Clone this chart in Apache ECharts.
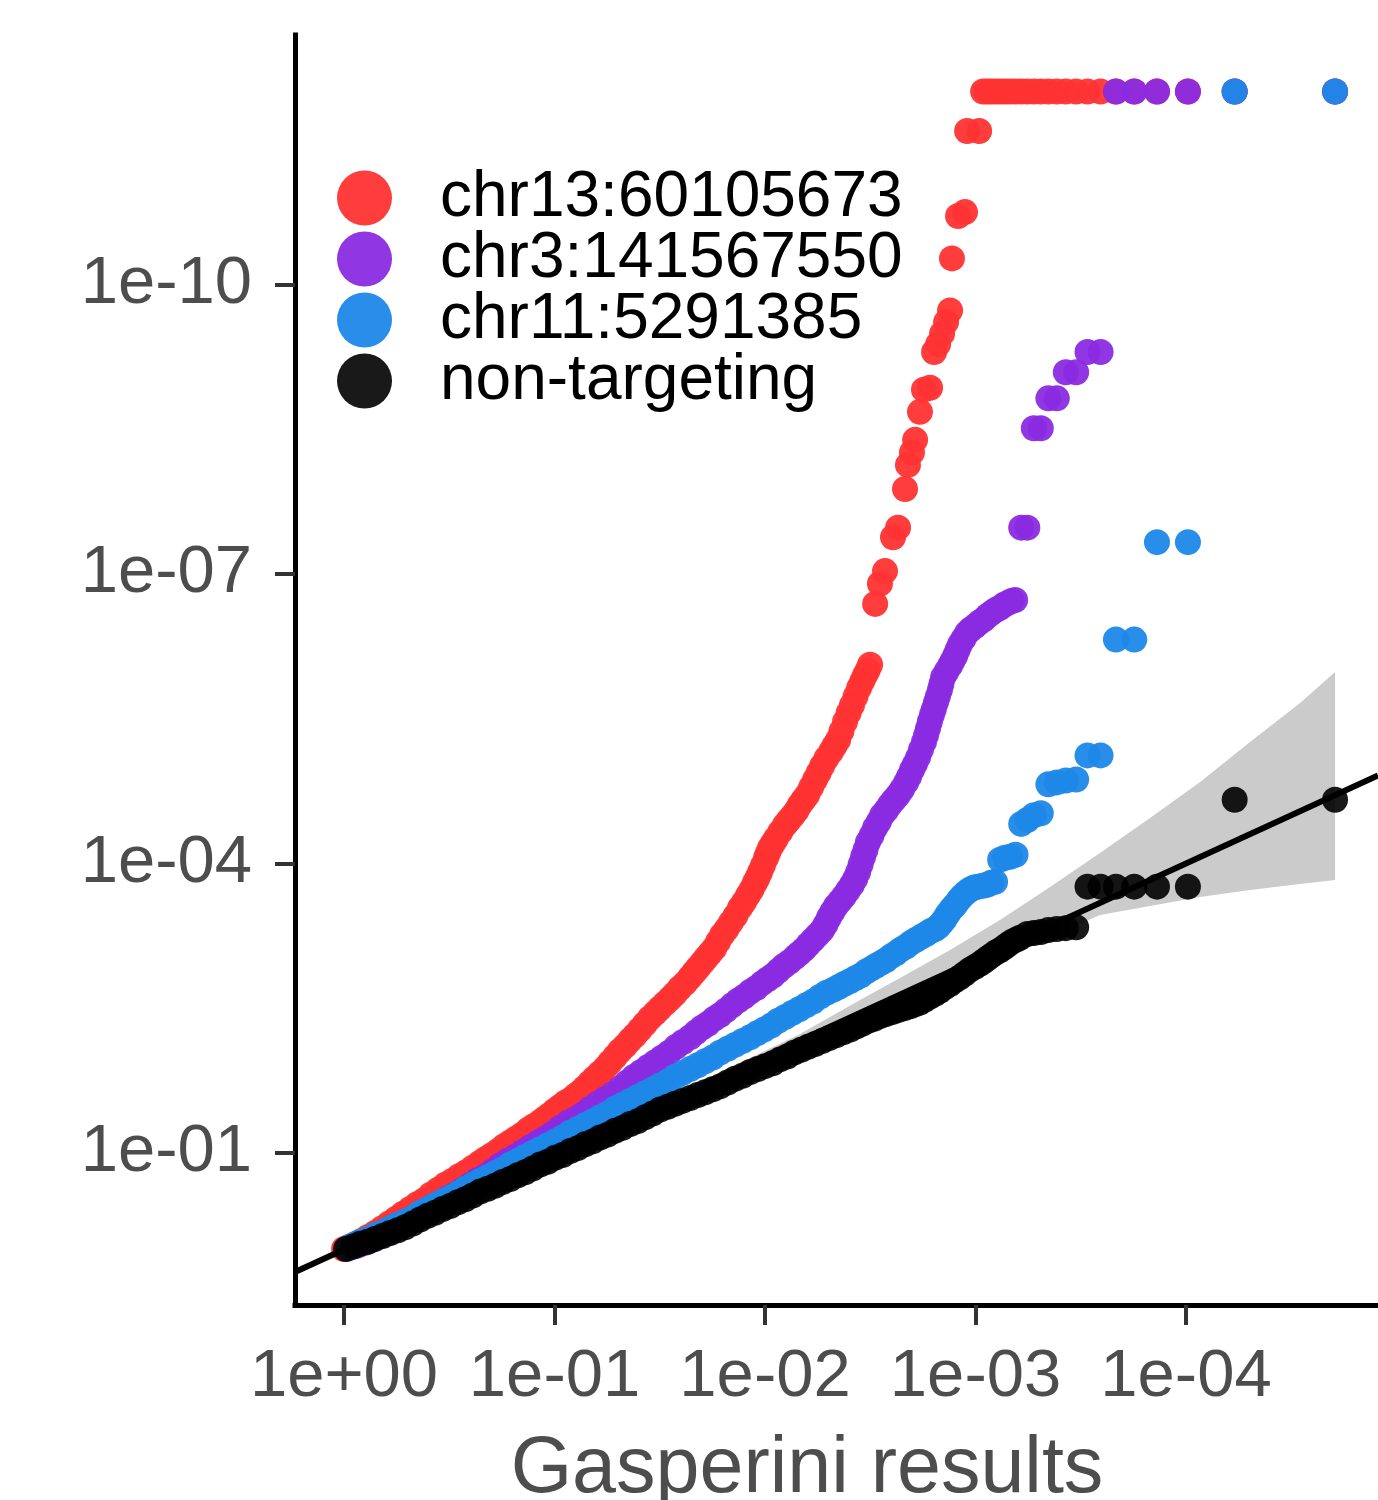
<!DOCTYPE html>
<html>
<head>
<meta charset="utf-8">
<title>Gasperini results</title>
<script src="https://cdn.jsdelivr.net/npm/echarts@6/dist/echarts.min.js"></script>
<style>
    html, body { margin: 0; padding: 0; background: #ffffff; }
    #div_qq { width: 1378px; height: 1500px; }
</style>
</head>
<body>
<div id="div_qq"></div>
<script>
(function () {
    'use strict';

    // both axes are in -log10(p) units, the labels turn them back into 1e-XX
    var xTicks = [0, 1, 2, 3, 4];
    var yTicks = [1, 4, 7, 10];

    var seriesNames = ['chr13:60105673', 'chr3:141567550', 'chr11:5291385', 'non-targeting'];

    // [expected, observed]
    var redPoints = [
        [4.708,12],[4.231,12],[4.009,12],[3.862,12],[3.754,12],[3.667,12],[3.594,12],[3.532,12],
        [3.478,12],[3.429,12],[3.386,12],[3.346,12],[3.310,12],[3.277,12],[3.246,12],[3.217,12],
        [3.190,12],[3.164,12],[3.140,12],[3.117,12],[3.096,12],[3.075,12],[3.056,12],[3.036,12],
        [3.017,11.59],[2.960,11.59],[2.950,10.75],[2.917,10.71],[2.888,10.27],[2.879,9.73],
        [2.860,9.61],[2.841,9.49],[2.822,9.38],[2.803,9.30],[2.784,8.93],[2.755,8.91],[2.736,8.68],
        [2.713,8.39],[2.698,8.26],[2.679,8.13],[2.665,7.88],[2.632,7.48],[2.608,7.38],[2.570,7.03],
        [2.546,6.90],[2.523,6.69],
        [2.499,6.06],[2.487,6.00],[2.475,5.95],[2.462,5.89],[2.447,5.82],[2.430,5.73],[2.413,5.64],
        [2.397,5.56],[2.380,5.47],[2.363,5.37],[2.347,5.28],[2.330,5.22],[2.314,5.16],[2.292,5.09],
        [2.271,5.01],[2.255,4.94],[2.238,4.87],[2.219,4.79],[2.200,4.71],[2.183,4.66],[2.166,4.61],
        [2.150,4.55],[2.133,4.50],[2.114,4.45],[2.095,4.40],[2.073,4.33],[2.052,4.26],[2.038,4.21],
        [2.024,4.16],[2.014,4.11],[2.005,4.06],[1.990,3.98],[1.976,3.91],[1.964,3.85],[1.952,3.80],
        [1.936,3.73],[1.919,3.67],[1.900,3.60],[1.881,3.54],[1.860,3.46],[1.838,3.39],[1.817,3.32],
        [1.796,3.26],[1.777,3.19],[1.758,3.12],[1.739,3.07],[1.720,3.02],[1.701,2.97],[1.682,2.92],
        [1.663,2.87],[1.644,2.82],[1.620,2.76],[1.596,2.71],[1.572,2.65],[1.549,2.60],[1.525,2.55],
        [1.501,2.50],[1.478,2.45],[1.454,2.40],[1.430,2.34],[1.406,2.28],[1.382,2.22],[1.359,2.17],
        [1.335,2.11],[1.311,2.06],[1.288,2.00],[1.264,1.94],[1.240,1.88],[1.216,1.83],[1.192,1.78],
        [1.169,1.73],[1.145,1.68],[1.121,1.63],[1.097,1.59],[1.074,1.55],[1.050,1.52],[1.026,1.48],
        [1.002,1.44],[0.979,1.40],[0.955,1.36],[0.931,1.32],[0.902,1.28],[0.874,1.24],[0.845,1.19],
        [0.817,1.15],[0.788,1.11],[0.760,1.07],[0.731,1.02],[0.703,0.98],[0.674,0.94],[0.646,0.90],
        [0.613,0.85],[0.580,0.80],[0.546,0.76],[0.513,0.71],[0.480,0.67],[0.447,0.62],[0.413,0.57],
        [0.380,0.51],[0.347,0.47],[0.314,0.42],[0.280,0.37],[0.247,0.32],[0.214,0.27],[0.181,0.22],
        [0.147,0.17],[0.114,0.13],[0.085,0.09],[0.057,0.06],[0.028,0.03],[0,0.005]
    ];

    var purplePoints = [
        [4.708,12],[4.231,12],[4.009,12],[3.862,12],[3.754,12],[3.667,12],
        [3.594,9.30],[3.532,9.30],[3.478,9.09],[3.429,9.09],[3.386,8.82],[3.346,8.82],
        [3.310,8.51],[3.277,8.51],[3.246,7.48],[3.217,7.48],
        [3.188,6.73],[3.171,6.72],[3.154,6.70],[3.135,6.68],[3.116,6.65],[3.097,6.63],[3.078,6.60],
        [3.059,6.57],[3.040,6.53],[3.019,6.50],[2.998,6.46],[2.979,6.43],[2.960,6.39],[2.943,6.33],
        [2.926,6.27],[2.914,6.21],[2.903,6.15],[2.891,6.10],[2.879,6.05],[2.862,5.99],[2.846,5.93],
        [2.838,5.86],[2.831,5.80],[2.821,5.73],[2.812,5.67],[2.802,5.60],[2.793,5.54],[2.783,5.47],
        [2.774,5.40],[2.765,5.33],[2.755,5.26],[2.741,5.18],[2.727,5.10],[2.712,5.03],[2.698,4.97],
        [2.684,4.90],[2.670,4.84],[2.651,4.77],[2.632,4.71],[2.613,4.66],[2.594,4.61],[2.575,4.55],
        [2.556,4.50],[2.540,4.43],[2.523,4.37],[2.506,4.29],[2.489,4.22],[2.477,4.14],[2.466,4.07],
        [2.454,3.99],[2.442,3.91],[2.428,3.84],[2.413,3.78],[2.394,3.72],[2.375,3.66],[2.356,3.61],
        [2.337,3.56],[2.320,3.50],[2.304,3.44],[2.288,3.37],[2.271,3.31],[2.250,3.26],[2.228,3.21],
        [2.206,3.16],[2.185,3.11],[2.164,3.07],[2.143,3.03],[2.116,2.98],[2.090,2.94],[2.064,2.89],
        [2.038,2.84],[2.012,2.80],[1.986,2.76],[1.958,2.71],[1.929,2.67],[1.900,2.62],[1.872,2.58],
        [1.843,2.53],[1.815,2.48],[1.786,2.43],[1.758,2.39],[1.729,2.34],[1.701,2.30],[1.672,2.25],
        [1.644,2.20],[1.610,2.15],[1.577,2.10],[1.544,2.04],[1.511,1.99],[1.478,1.94],[1.444,1.89],
        [1.411,1.84],[1.378,1.79],[1.344,1.73],[1.311,1.67],[1.275,1.61],[1.240,1.56],[1.204,1.51],
        [1.169,1.46],[1.133,1.40],[1.097,1.35],[1.061,1.31],[1.026,1.26],[0.990,1.20],[0.955,1.15],
        [0.920,1.11],[0.884,1.06],[0.848,1.01],[0.812,0.96],[0.777,0.92],[0.741,0.87],[0.705,0.81],
        [0.670,0.76],[0.634,0.72],[0.599,0.67],[0.563,0.62],[0.527,0.57],[0.491,0.53],[0.456,0.48],
        [0.420,0.44],[0.385,0.39],[0.350,0.34],[0.314,0.29],[0.278,0.25],[0.242,0.21],[0.206,0.17],
        [0.171,0.14],[0.135,0.10],[0.100,0.07],[0.064,0.04],[0.029,0.02]
    ];

    var bluePoints = [
        [4.708,12],[4.231,12],[4.009,7.33],[3.862,7.33],[3.754,6.32],[3.667,6.32],
        [3.594,5.12],[3.532,5.12],[3.478,4.87],[3.429,4.86],[3.386,4.84],[3.346,4.82],
        [3.310,4.52],[3.277,4.50],[3.246,4.45],[3.217,4.41],[3.190,4.09],[3.164,4.07],
        [3.140,4.06],[3.117,4.04],
        [3.093,3.81],[3.074,3.80],[3.055,3.78],[3.034,3.77],[3.012,3.76],[2.993,3.75],[2.974,3.73],
        [2.955,3.70],[2.936,3.66],[2.920,3.62],[2.903,3.57],[2.886,3.53],[2.869,3.48],[2.855,3.43],
        [2.841,3.39],[2.825,3.35],[2.808,3.32],[2.787,3.30],[2.765,3.27],[2.741,3.24],[2.717,3.21],
        [2.694,3.18],[2.670,3.14],[2.646,3.11],[2.622,3.07],[2.599,3.04],[2.575,3.00],[2.551,2.97],
        [2.527,2.94],[2.504,2.91],[2.480,2.88],[2.454,2.84],[2.428,2.81],[2.402,2.78],[2.375,2.75],
        [2.349,2.72],[2.323,2.69],[2.292,2.66],[2.261,2.62],[2.228,2.57],[2.195,2.53],[2.162,2.49],
        [2.128,2.45],[2.095,2.41],[2.062,2.37],[2.029,2.32],[1.995,2.28],[1.962,2.24],[1.929,2.20],
        [1.893,2.16],[1.857,2.12],[1.822,2.08],[1.786,2.04],[1.751,1.99],[1.715,1.95],[1.680,1.91],
        [1.644,1.87],[1.608,1.83],[1.572,1.79],[1.537,1.74],[1.501,1.70],[1.466,1.66],[1.430,1.62],
        [1.395,1.58],[1.359,1.54],[1.323,1.50],[1.287,1.46],[1.252,1.41],[1.216,1.37],[1.181,1.33],
        [1.145,1.29],[1.110,1.25],[1.074,1.21],[1.038,1.16],[1.002,1.12],[0.967,1.08],[0.931,1.04],
        [0.896,1.00],[0.860,0.96],[0.825,0.92],[0.789,0.88],[0.753,0.83],[0.717,0.79],[0.682,0.75],
        [0.646,0.71],[0.611,0.67],[0.575,0.63],[0.540,0.58],[0.504,0.54],[0.468,0.50],[0.432,0.46],
        [0.397,0.42],[0.361,0.38],[0.326,0.33],[0.290,0.29],[0.255,0.26],[0.219,0.22],[0.183,0.18],
        [0.147,0.15],[0.112,0.11],[0.076,0.08],[0.048,0.05],[0.019,0.02]
    ];

    var blackPoints = [
        [4.708,4.66],[4.231,4.66],[4.009,3.76],[3.862,3.76],[3.754,3.76],[3.667,3.76],[3.594,3.76],
        [3.532,3.76],[3.478,3.34],[3.429,3.33],[3.386,3.32],[3.346,3.31],[3.310,3.29],[3.277,3.28],
        [3.246,3.27],
        [3.211,3.23],[3.192,3.21],[3.173,3.19],[3.154,3.16],[3.135,3.13],[3.116,3.10],[3.097,3.08],
        [3.078,3.05],[3.059,3.02],[3.040,2.99],[3.021,2.96],[2.998,2.93],[2.974,2.90],[2.950,2.86],
        [2.926,2.82],[2.903,2.79],[2.879,2.75],[2.855,2.72],[2.831,2.68],[2.808,2.65],[2.784,2.62],
        [2.760,2.59],[2.736,2.56],[2.713,2.54],[2.689,2.52],[2.660,2.50],[2.632,2.48],[2.604,2.46],
        [2.575,2.44],[2.547,2.42],[2.518,2.39],[2.490,2.37],[2.461,2.34],[2.433,2.31],[2.404,2.28],
        [2.371,2.25],[2.337,2.22],[2.304,2.19],[2.271,2.16],[2.238,2.13],[2.204,2.10],[2.171,2.07],
        [2.138,2.04],[2.105,2.00],[2.071,1.97],[2.036,1.93],[2.000,1.90],[1.965,1.87],[1.929,1.84],
        [1.893,1.80],[1.857,1.77],[1.822,1.73],[1.786,1.69],[1.751,1.66],[1.715,1.63],[1.680,1.60],
        [1.644,1.57],[1.608,1.54],[1.572,1.51],[1.537,1.48],[1.501,1.45],[1.466,1.41],[1.430,1.37],
        [1.395,1.33],[1.359,1.30],[1.323,1.26],[1.287,1.23],[1.252,1.19],[1.216,1.16],[1.181,1.12],
        [1.145,1.09],[1.110,1.05],[1.074,1.02],[1.038,0.98],[1.002,0.95],[0.967,0.91],[0.931,0.88],
        [0.896,0.84],[0.860,0.80],[0.825,0.77],[0.789,0.73],[0.753,0.70],[0.717,0.66],[0.682,0.63],
        [0.646,0.60],[0.611,0.56],[0.575,0.52],[0.540,0.49],[0.504,0.45],[0.468,0.42],[0.432,0.38],
        [0.397,0.35],[0.361,0.31],[0.326,0.27],[0.290,0.23],[0.255,0.20],[0.219,0.17],[0.183,0.14],
        [0.147,0.11],[0.112,0.08],[0.076,0.06],[0.043,0.03],[0.010,0.005]
    ];

    // grey band around the diagonal
    var bandX    = [0, 1.216, 2.166, 2.451, 2.641, 2.879, 3.116, 3.354, 3.591, 3.829, 4.067, 4.304, 4.542, 4.708];
    var bandHigh = [0, 1.238, 2.233, 2.585, 2.813, 3.104, 3.415, 3.756, 4.109, 4.472, 4.845, 5.259, 5.663, 5.984];
    var bandLow  = [0, 1.197, 2.119, 2.358, 2.523, 2.741, 3.021, 3.238, 3.466, 3.560, 3.653, 3.725, 3.788, 3.829];

    // y = x, drawn across the whole panel
    var refLine = [[-0.233, -0.233], [4.912, 4.912]];

    var colors = ['#ff3333', '#8a2be2', '#1e88e8', '#000000'];
    var labelFont = 'Liberation Sans, Arial, Helvetica, sans-serif';

    function tickText(v) {
        if (v === 0) {
            return '1e+00';
        }
        return '1e-' + (v < 10 ? '0' : '') + v;
    }

    function renderBand(params, api) {
        var pts = [];
        var i;
        for (i = 0; i < bandX.length; i++) {
            pts.push(api.coord([bandX[i], bandHigh[i]]));
        }
        for (i = bandX.length - 1; i >= 0; i--) {
            pts.push(api.coord([bandX[i], bandLow[i]]));
        }
        return {
            type: 'polygon',
            shape: { points: pts },
            style: { fill: '#cbcbcb' }
        };
    }

    function scatterSeries(name, data, color, opacity) {
        return {
            name: name,
            type: 'scatter',
            data: data,
            symbol: 'circle',
            symbolSize: 26,
            z: 3,
            silent: true,
            itemStyle: { color: color, opacity: opacity }
        };
    }

    var axisLineStyle = { color: '#000000', width: 5, cap: 'square' };
    var tickStyle = { color: '#333333', width: 4 };

    var myChart = echarts.init(document.getElementById('div_qq'));
    myChart.setOption({
        backgroundColor: '#ffffff',
        animation: false,
        grid: {
            left: 295,
            top: 35,
            width: 1083,
            height: 1270,
            containLabel: false,
            outerBoundsMode: 'none'
        },
        legend: {
            orient: 'vertical',
            left: 332,
            top: 161,
            icon: 'circle',
            itemWidth: 55,
            itemHeight: 55,
            itemGap: -3,
            selectedMode: false,
            data: seriesNames,
            textStyle: {
                fontFamily: labelFont,
                fontSize: 64,
                color: '#000000',
                padding: [0, 0, 0, 43]
            }
        },
        xAxis: {
            type: 'value',
            min: -0.233,
            max: 4.912,
            name: 'Gasperini results',
            nameLocation: 'middle',
            nameGap: 126,
            nameTextStyle: {
                fontFamily: labelFont,
                fontSize: 79,
                color: '#4d4d4d',
                padding: [0, 59, 0, 0]
            },
            splitLine: { show: false },
            axisLine: { onZero: false, lineStyle: axisLineStyle },
            axisTick: { customValues: xTicks, length: 20, lineStyle: tickStyle },
            axisLabel: {
                customValues: xTicks,
                formatter: tickText,
                margin: 39,
                fontFamily: labelFont,
                fontSize: 67,
                color: '#4d4d4d'
            }
        },
        yAxis: {
            type: 'value',
            min: -0.575,
            max: 12.585,
            splitLine: { show: false },
            axisLine: { onZero: false, lineStyle: axisLineStyle },
            axisTick: { customValues: yTicks, length: 20, lineStyle: tickStyle },
            axisLabel: {
                customValues: yTicks,
                formatter: tickText,
                margin: 43,
                fontFamily: labelFont,
                fontSize: 67,
                color: '#4d4d4d'
            }
        },
        series: [
            {
                type: 'custom',
                renderItem: renderBand,
                data: [[0, 0]],
                z: 1,
                silent: true
            },
            scatterSeries(seriesNames[0], redPoints, colors[0], 0.95),
            scatterSeries(seriesNames[1], purplePoints, colors[1], 0.95),
            scatterSeries(seriesNames[2], bluePoints, colors[2], 0.95),
            scatterSeries(seriesNames[3], blackPoints, colors[3], 0.9),
            {
                type: 'line',
                data: refLine,
                showSymbol: false,
                z: 4,
                silent: true,
                lineStyle: { color: '#000000', width: 6 }
            }
        ]
    });
})();
</script>
</body>
</html>
